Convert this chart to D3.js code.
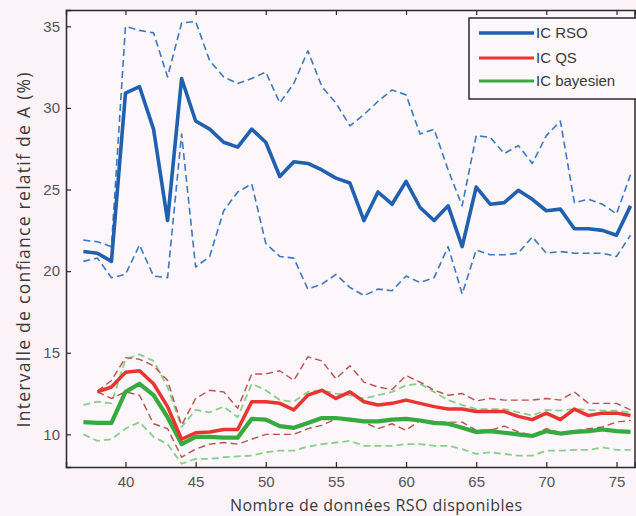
<!DOCTYPE html>
<html lang="fr">
  <head>
    <meta charset="utf-8">
    <title>Intervalle de confiance</title>
    <style>
      body { margin: 0; background: #fbf3f8; }
      svg { display: block; }
    </style>
  </head>
  <body>
    <svg></svg>
    <script src="https://d3js.org/d3.v7.min.js"></script>
    <script type="text/javascript">
      // nombre de données RSO disponibles
      var n = d3.range(37, 77);

      var rsoMean = [21.2, 21.1, 20.6, 30.9, 31.3, 28.7, 23.1, 31.8, 29.2, 28.7,
                     27.9, 27.6, 28.7, 27.9, 25.8, 26.7, 26.6, 26.2, 25.7, 25.4,
                     23.1, 24.85, 24.1, 25.5, 23.9, 23.1, 24.0, 21.5, 25.15, 24.1,
                     24.2, 24.95, 24.4, 23.7, 23.8, 22.6, 22.6, 22.5, 22.2, 24.0];
      var rsoHigh = [21.9, 21.8, 21.5, 35.0, 34.75, 34.6, 31.9, 35.2, 35.3, 32.9,
                     31.9, 31.5, 31.8, 32.2, 30.3, 31.5, 33.5, 31.3, 30.3, 28.9,
                     29.6, 30.4, 31.1, 30.8, 28.4, 28.7, 26.2, 24.0, 28.3, 28.2,
                     27.2, 27.7, 26.6, 28.3, 29.2, 24.2, 24.4, 24.1, 23.5, 25.9];
      var rsoLow  = [20.6, 20.8, 19.6, 19.8, 21.6, 19.7, 19.6, 28.4, 20.25, 20.9,
                     23.7, 24.85, 25.35, 21.7, 20.9, 20.8, 18.9, 19.2, 19.8, 19.0,
                     18.5, 18.9, 18.8, 19.7, 19.3, 19.6, 21.5, 18.6, 21.3, 21.0,
                     21.0, 21.1, 22.1, 21.1, 21.2, 21.1, 21.1, 21.1, 20.9, 22.2];

      // IC QS commence à 38
      var qsMean = [null, 12.6, 12.9, 13.8, 13.9, 13.1, 11.7, 9.7, 10.1, 10.15,
                    10.3, 10.3, 12.0, 12.0, 11.9, 11.5, 12.4, 12.7, 12.2, 12.6,
                    12.0, 11.8, 11.9, 12.1, 11.9, 11.7, 11.55, 11.55, 11.4, 11.4,
                    11.4, 11.1, 10.9, 11.3, 10.9, 11.55, 11.15, 11.3, 11.3, 11.15];
      var qsHigh = [null, 12.65, 13.3, 14.7, 14.6, 14.2, 13.3, 10.55, 12.2, 12.7,
                    12.6, 11.6, 13.7, 13.7, 13.9, 13.3, 14.75, 14.5, 13.4, 14.2,
                    13.2, 12.9, 12.75, 13.6, 13.2, 12.7, 12.4, 12.5, 12.05, 12.2,
                    12.1, 12.1, 12.1, 12.2, 12.1, 12.6, 11.9, 11.9, 11.9, 11.5];
      var qsLow  = [null, 12.6, 12.2, 12.6, 12.4, 10.65, 10.35, 8.6, 9.1, 9.4,
                    9.5, 9.4, 9.7, 10.0, 10.0, 10.0, 10.35, 10.55, 10.95, 10.95,
                    10.75, 10.35, 10.65, 10.25, 10.85, 10.75, 10.75, 10.75, 10.25, 10.25,
                    10.5, 10.15, 9.95, 10.35, 10.1, 10.2, 10.35, 10.45, 10.75, 10.85];

      var bayMean = [10.75, 10.7, 10.7, 12.6, 13.1, 12.4, 11.05, 9.4, 9.85, 9.85,
                     9.8, 9.8, 10.95, 10.9, 10.5, 10.4, 10.7, 11.0, 11.0, 10.9,
                     10.8, 10.8, 10.9, 10.95, 10.85, 10.7, 10.65, 10.4, 10.15, 10.2,
                     10.1, 10.0, 9.9, 10.2, 10.05, 10.15, 10.2, 10.3, 10.2, 10.15];
      var bayHigh = [11.8, 12.0, 11.9, 14.6, 14.9, 14.5, 12.9, 10.45, 11.5, 11.35,
                     11.7, 11.05, 13.1, 12.7, 12.1, 12.0, 12.6, 12.7, 12.5, 12.4,
                     12.2, 12.4, 12.6, 13.0, 13.1, 12.6, 12.1, 11.8, 11.55, 11.55,
                     11.55, 11.35, 11.15, 11.5, 11.45, 11.55, 11.5, 11.45, 11.45, 11.35];
      var bayLow  = [10.0, 9.6, 9.7, 10.35, 10.75, 9.85, 9.4, 8.2, 8.5, 8.5,
                     8.6, 8.65, 8.7, 8.9, 9.0, 9.0, 9.25, 9.4, 9.5, 9.6,
                     9.3, 9.3, 9.3, 9.4, 9.4, 9.3, 9.3, 9.1, 8.8, 8.9,
                     8.8, 8.7, 8.7, 9.0, 9.0, 9.05, 9.05, 9.2, 9.05, 9.05];

      var xTicks = [40, 45, 50, 55, 60, 65, 70, 75];
      var yTicks = [10, 15, 20, 25, 30, 35];
      var legendNames = ["IC RSO", "IC QS", "IC bayesien"];

      var width = 636, height = 516;
      var pLeft = 66, pRight = 635, pTop = 10, pBottom = 467;

      var svg = d3.select("svg")
                  .attr("width", width)
                  .attr("height", height);

      svg.append("rect")
         .attr("x", pLeft).attr("y", pTop)
         .attr("width", pRight - pLeft).attr("height", pBottom - pTop)
         .style("fill", "#fdf6fa");

      var x = d3.scaleLinear().domain([35.76, 76.32]).range([pLeft, pRight]);
      var y = d3.scaleLinear().domain([8, 36]).range([pBottom, pTop]);

      var series = [
        {v: rsoHigh, color: "#3c79c2", w: 1.6, dash: "7,4"},
        {v: rsoLow,  color: "#3c79c2", w: 1.6, dash: "7,4"},
        {v: bayHigh, color: "#86d08a", w: 1.8, dash: "7,4"},
        {v: bayLow,  color: "#86d08a", w: 1.8, dash: "7,4"},
        {v: qsHigh,  color: "#b9524c", w: 1.4, dash: "7,4"},
        {v: qsLow,   color: "#b9524c", w: 1.4, dash: "7,4"},
        {v: bayMean, color: "#35aa3f", w: 4.2, dash: null},
        {v: qsMean,  color: "#e93430", w: 3.5, dash: null},
        {v: rsoMean, color: "#1f60b0", w: 3.6, dash: null}
      ];

      var line = d3.line()
                   .defined(function(d){ return d[1] != null; })
                   .x(function(d){ return x(d[0]); })
                   .y(function(d){ return y(d[1]); });

      svg.selectAll("path.serie")
         .data(series)
         .enter()
         .append("path")
         .attr("class", "serie")
         .attr("d", function(s){ return line(n.map(function(k, i){ return [k, s.v[i]]; })); })
         .style("fill", "none")
         .style("stroke", function(s){ return s.color; })
         .style("stroke-width", function(s){ return s.w; })
         .style("stroke-dasharray", function(s){ return s.dash; })
         .style("stroke-linejoin", "round");

      // axes, ticks vers l'intérieur comme dans matlab
      var xAxis = svg.append("g")
         .attr("transform", "translate(0," + pBottom + ")")
         .call(d3.axisBottom(x).tickValues(xTicks).tickSize(-5).tickPadding(9));
      var xTop = svg.append("g")
         .attr("transform", "translate(0," + pTop + ")")
         .call(d3.axisTop(x).tickValues(xTicks).tickSize(-5).tickFormat(""));
      var yAxis = svg.append("g")
         .attr("transform", "translate(" + pLeft + ",0)")
         .call(d3.axisLeft(y).tickValues(yTicks).tickSize(-5).tickPadding(6));

      [xAxis, xTop, yAxis].forEach(function(g){
        g.select(".domain").style("stroke", "#2a2a2a").style("stroke-width", 1.5);
        g.selectAll(".tick line").style("stroke", "#2a2a2a").style("stroke-width", 1.2);
        g.selectAll(".tick text")
         .style("font-family", "'Liberation Sans Narrow', 'Liberation Sans', sans-serif")
         .style("font-size", "15px")
         .style("fill", "#555");
      });

      svg.append("line")
         .attr("x1", pRight).attr("x2", pRight)
         .attr("y1", pTop).attr("y2", pBottom)
         .style("stroke", "#2a2a2a").style("stroke-width", 1.5);

      svg.append("text")
         .attr("x", 376).attr("y", 511)
         .attr("text-anchor", "middle")
         .attr("textLength", 292)
         .attr("lengthAdjust", "spacing")
         .style("font-family", "'Open Sans', sans-serif")
         .style("font-size", "16px")
         .style("fill", "#3a3a3a")
         .text("Nombre de données RSO disponibles");

      svg.append("text")
         .attr("transform", "translate(30,250) rotate(-90)")
         .attr("text-anchor", "middle")
         .attr("textLength", 355)
         .attr("lengthAdjust", "spacing")
         .style("font-family", "'Open Sans', sans-serif")
         .style("font-size", "17.5px")
         .style("fill", "#3a3a3a")
         .text("Intervalle de confiance relatif de A (%)");

      // légende
      var legendColors = ["#1f60b0", "#e93430", "#35aa3f"];
      var leg = svg.append("g");
      leg.append("rect")
         .attr("x", 469).attr("y", 18)
         .attr("width", 170).attr("height", 81)
         .style("fill", "#fdf8fb")
         .style("stroke", "#2a2a2a")
         .style("stroke-width", 1.5);
      var rows = leg.selectAll("g.row")
         .data(legendNames)
         .enter()
         .append("g")
         .attr("transform", function(d, i){ return "translate(0," + [33, 58, 81][i] + ")"; });
      rows.append("line")
         .attr("x1", 479).attr("x2", 534)
         .style("stroke", function(d, i){ return legendColors[i]; })
         .style("stroke-width", function(d, i){ return i == 0 ? 3.6 : 3; });
      rows.append("text")
         .attr("x", 536).attr("dy", "0.36em")
         .style("font-family", "'Liberation Sans', sans-serif")
         .style("font-size", "15px")
         .style("fill", "#3a3a3a")
         .text(function(d){ return d; });
    </script>
  </body>
</html>
